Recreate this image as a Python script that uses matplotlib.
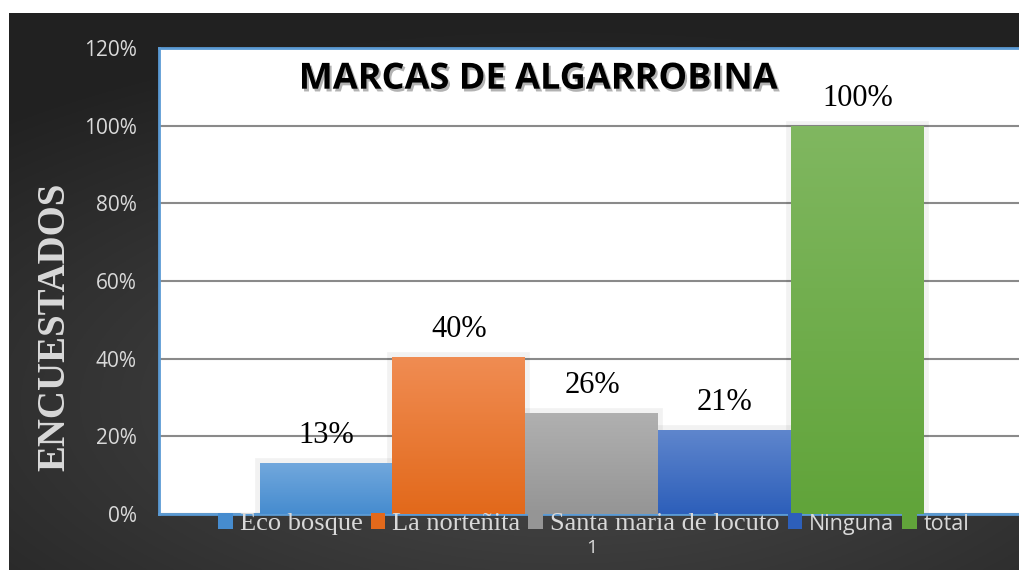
import numpy as np
import matplotlib
matplotlib.use('Agg')
import matplotlib.pyplot as plt
import matplotlib.patheffects as pe
from matplotlib.patches import Patch
from matplotlib.ticker import PercentFormatter

# datos
marcas = ['Eco bosque', 'La norteñita', 'Santa maria de locuto', 'Ninguna', 'total']
porcentajes = [0.132, 0.404, 0.26, 0.217, 1.00]
etiquetas = ['13%', '40%', '26%', '21%', '100%']
categoria = ['1']

# degradado de cada barra (arriba, abajo)
colores = [('#72a8dd', '#468ccf'),
           ('#f08c52', '#e2691b'),
           ('#b0b0b0', '#959595'),
           ('#5f86cd', '#2d5fba'),
           ('#80b760', '#61a43a')]
gris = '#d9d9d9'

fig = plt.figure(figsize=(10.2, 5.7), dpi=100)
fig.patch.set_facecolor('white')

# fondo oscuro con degradado radial
bg = fig.add_axes([9 / 1020, 0, 1 - 9 / 1020, 1 - 13 / 570], zorder=0)
yy, xx = np.mgrid[0:1:300j, 0:1:500j]
r = np.sqrt(((xx - 0.55) / 1.0) ** 2 + ((yy - 0.3) / 0.8) ** 2)
v = np.clip(0.30 - 0.2 * r, 0.13, 0.30)
bg.imshow(np.dstack([v, v, v]), aspect='auto', extent=[0, 1, 0, 1], origin='lower')
bg.axis('off')

ax = fig.add_axes([159 / 1020, 56 / 570, 866 / 1020, 466 / 570], zorder=1)
ax.set_facecolor('white')

ancho = 133 / 866
n = len(marcas)
pos = (np.arange(n) - (n - 1) / 2) * ancho
barras = ax.bar(pos, porcentajes, width=ancho, color=[c[1] for c in colores], zorder=2,
                path_effects=[pe.Stroke(linewidth=7, foreground='black', alpha=0.05), pe.Normal()])

grad = np.linspace(0, 1, 100).reshape(-1, 1)
for b, (c1, c2) in zip(barras, colores):
    cmap = matplotlib.colors.LinearSegmentedColormap.from_list('g', [c2, c1])
    im = ax.imshow(grad, cmap=cmap, aspect='auto', origin='lower', zorder=3,
                   extent=[b.get_x(), b.get_x() + b.get_width(), 0, b.get_height()])
    im.set_clip_path(b)
ax.set_xlim(-0.5, 0.5)
ax.set_ylim(0, 1.2)

for b, t in zip(barras, etiquetas):
    ax.text(b.get_x() + b.get_width() / 2, b.get_height() + 0.033, t, ha='center', va='bottom',
            fontsize=22, family='Liberation Serif', color='black', zorder=5)

ax.yaxis.set_major_formatter(PercentFormatter(1.0, decimals=0))
ax.set_yticks(np.arange(0, 1.21, 0.2))
ax.grid(axis='y', color='#8a8a8a', linewidth=1.5, zorder=0)
ax.set_axisbelow(True)
ax.tick_params(axis='y', length=0, pad=16, labelsize=15, labelcolor=gris)
ax.set_xticks([0])
ax.set_xticklabels(categoria)
ax.tick_params(axis='x', length=0, pad=18, labelsize=14, labelcolor=gris)
for lab in ax.get_yticklabels() + ax.get_xticklabels():
    lab.set_family('Open Sans')
for s in ax.spines.values():
    s.set_color('#5b9bd5')
    s.set_linewidth(2)

fig.text(55 / 1020, 1 - 327 / 570, 'ENCUESTADOS', rotation=90, ha='center', va='center',
         fontsize=28, fontweight='bold', family='Liberation Serif', color=gris)

ax.text(379 / 866, 0.932, 'MARCAS DE ALGARROBINA', transform=ax.transAxes, ha='center', va='center',
        fontsize=26, fontweight='bold', family='Open Sans', color='black', zorder=6,
        path_effects=[pe.withSimplePatchShadow(offset=(1.5, -2), shadow_rgbFace='black', alpha=0.3)])

handles = [Patch(facecolor=c[1], edgecolor='none') for c in colores]
leg = fig.legend(handles, marcas, loc='center', bbox_to_anchor=(594 / 1020, 1 - 524 / 570),
                 ncol=5, frameon=False, prop={'family': 'Liberation Serif', 'size': 19},
                 handlelength=0.55, handleheight=0.55, handletextpad=0.27, columnspacing=0.3,
                 borderaxespad=0, borderpad=0)
leg.set_zorder(10)
for i, txt in enumerate(leg.get_texts()):
    txt.set_color(gris)
    if i >= 3:
        txt.set_family('Open Sans')
        txt.set_fontsize(15.5)

fig.savefig('out.png', dpi=100)
